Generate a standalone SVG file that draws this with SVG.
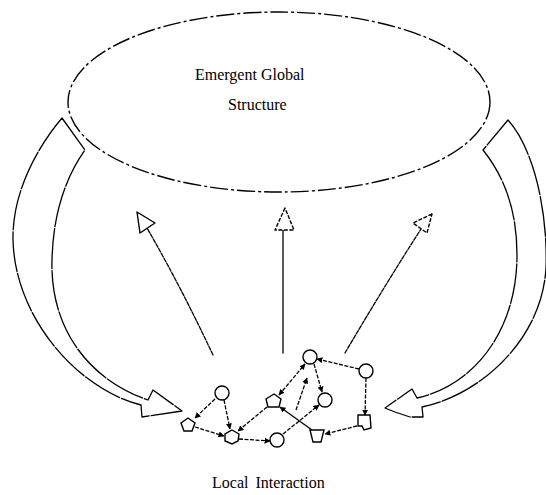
<svg xmlns="http://www.w3.org/2000/svg" width="546" height="495" viewBox="0 0 546 495">
  <defs>
    <style>
      .ln { fill: none; stroke: #000; stroke-width: 1.3; stroke-linecap: round; stroke-linejoin: round; }
      .big { stroke-dasharray: 40 2; }
      .ell { fill: none; stroke: #000; stroke-width: 1.4; stroke-dasharray: 18 3 3 3; }
      .head { fill: #fff; stroke: #000; stroke-width: 1.4; stroke-linejoin: round; }
      .dash { stroke-dasharray: 4 1.5; }
      .net { fill: none; stroke: #000; stroke-width: 1.3; }
      .node { fill: #fff; stroke: #000; stroke-width: 1.4; }
      .lbl { font-family: "Liberation Serif", "Times New Roman", serif; font-size: 16px; fill: #000; }
    </style>
    <marker id="tip" viewBox="0 0 10 10" refX="9" refY="5" markerWidth="6" markerHeight="6" orient="auto-start-reverse" markerUnits="userSpaceOnUse">
      <path d="M0,0 L10,5 L0,10 Z" fill="#000"/>
    </marker>
  </defs>

  <!-- top: global structure -->
  <g id="global">
    <ellipse class="ell" cx="279" cy="102" rx="211" ry="90"/>
    <text class="lbl" x="195" y="80">Emergent Global</text>
    <text class="lbl" x="228" y="110">Structure</text>
  </g>

  <!-- bottom: interacting agents -->
  <g id="nodes">
    <g id="a"><circle class="node" cx="222" cy="393" r="7"/></g>
    <g id="b"><polygon class="node" points="188,418 195,423 192,431 184,431 181,423"/></g>
    <g id="c"><polygon class="node" points="232,430 239,434 238,441 232,444 225,441 225,434"/></g>
    <g id="d"><circle class="node" cx="277" cy="440" r="7"/></g>
    <g id="e"><polygon class="node" points="274,394 281,399 279,407 268,407 266,399"/></g>
    <g id="f"><circle class="node" cx="310" cy="357" r="7"/></g>
    <g id="g"><circle class="node" cx="325" cy="400" r="7"/></g>
    <g id="h"><circle class="node" cx="366" cy="371" r="7"/></g>
    <g id="i"><polygon class="node" points="358,415 370,415 371,428 364,430 362,426 358,426"/></g>
    <g id="j"><polygon class="node" points="310,430 324,430 321,442 313,442"/></g>
  </g>

  <g id="connectors">
    <!-- feedback arrows from the global structure down to the agents -->
    <path class="ln big" d="M62,118 C35,150 12,195 13,240 C15,320 80,390 141,405 L142,417 L182,411 L153,390 L148,400 C90,380 50,330 52,260 C53,215 65,178 85,150 Z"/>
    <path class="ln big" d="M508,120 C535,150 548,215 546,268 C542,340 480,395 422,407 L423,417 L410,417 L395,412 L385,408 L412,389 L417,398 C475,385 517,330 517,255 C517,215 507,180 483,150 Z"/>

    <!-- emergence arrows from the agents up to the global structure -->
    <path class="ln dash" d="M213,355 Q180,285 147,228"/>
    <polygon class="head" points="137,212 155,223 140,233"/>
    <line class="ln" x1="283" y1="353" x2="283" y2="230"/>
    <polygon class="head dash" points="285,208 275,230 294,230"/>
    <path class="ln dash" d="M345,353 Q385,285 421,229"/>
    <polygon class="head dash" points="432,214 413,223 427,233"/>

    <!-- links between agents -->
    <path class="net dash" d="M215,399 L195,418" marker-end="url(#tip)"/>
    <path class="net dash" d="M224,400 L230,429" marker-end="url(#tip)"/>
    <path class="net dash" d="M195,427 L224,436" marker-end="url(#tip)"/>
    <path class="net dash" d="M267,407 L238,431" marker-end="url(#tip)"/>
    <path class="net dash" d="M239,439 L270,441" marker-end="url(#tip)"/>
    <path class="net dash" d="M279,395 L305,364" marker-start="url(#tip)" marker-end="url(#tip)"/>
    <path class="net dash" d="M359,369 L317,359" marker-end="url(#tip)"/>
    <path class="net dash" d="M366,378 L365,415" marker-end="url(#tip)"/>
    <path class="net dash" d="M357,426 L325,434" marker-end="url(#tip)"/>
    <path class="net" d="M312,430 L280,407" marker-end="url(#tip)"/>
    <path class="net dash" d="M283,434 L319,405" marker-end="url(#tip)"/>
    <path class="net dash" d="M296,410 L307,378" marker-end="url(#tip)"/>
    <path class="net dash" d="M314,364 L322,392" marker-end="url(#tip)"/>
  </g>

  <g id="local">
    <text class="lbl" x="212" y="488" word-spacing="3">Local Interaction</text>
  </g>
</svg>
